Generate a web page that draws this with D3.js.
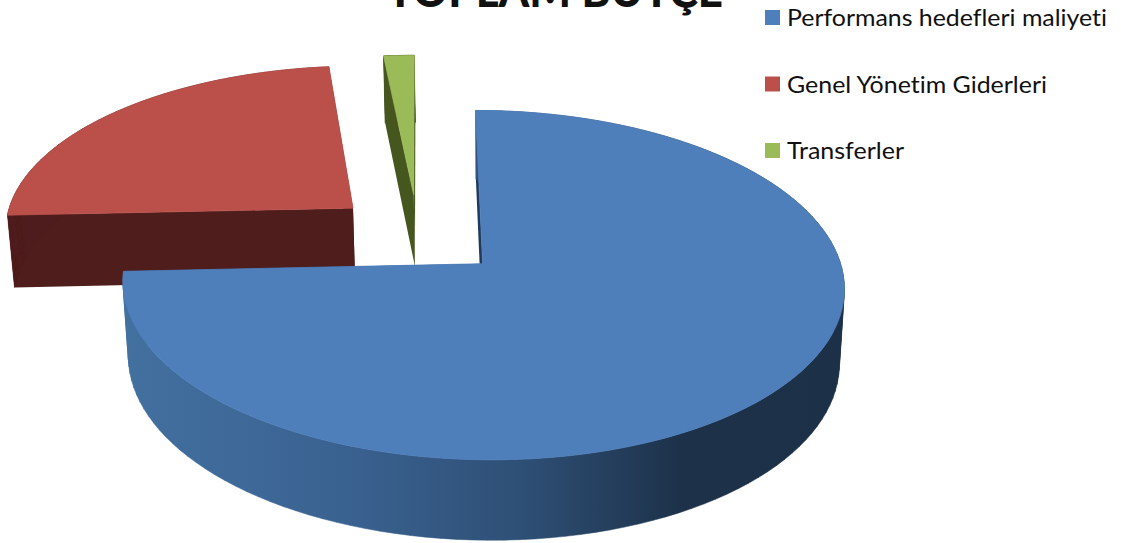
<!DOCTYPE html>
<html>
<head>
<meta charset="utf-8">
<script src="https://cdn.jsdelivr.net/npm/d3@7"></script>
<style>
    html, body { margin: 0; padding: 0; background: #fff; overflow: hidden; }
    text { font-family: Lato, "Open Sans", sans-serif; fill: #111; font-variant-ligatures: none; }
</style>
</head>
<body>
<script>
const title = "TOPLAM BÜTÇE";
const categories = ["Performans hedefleri maliyeti", "Genel Yönetim Giderleri", "Transferler"];
const values = [74.3, 24.1, 1.6];

const topColors = ["#4f7fbb", "#bb504b", "#9bbb59"];
const wallColors = ["#1f3a5c", "#4e1d1c", "#46561f"];

const width = 1121, height = 543;

// pie "camera": explosion is in radius units, perspective shrinks the back of the disc
const explode = 0.25;
const perspective = 0.12;
const wallHeight = 73;
const firstAngle = 0;
const shrinkX = 0.0143, shrinkY = 0.02, shrinkCenterX = 497;

const xScale = d3.scaleLinear().domain([-1, 1]).range([418 - 350.5, 418 + 350.5]);
const yScale = d3.scaleLinear().domain([-1, 1]).range([234.6 - 165, 234.6 + 165]);

const svg = d3.select("body")
    .append("svg")
    .attr("width", width)
    .attr("height", height)
    .style("display", "block");

const grad = svg.append("defs")
    .append("linearGradient")
    .attr("id", "blue-wall")
    .attr("gradientUnits", "userSpaceOnUse")
    .attr("x1", 125).attr("x2", 850).attr("y1", 0).attr("y2", 0);
grad.selectAll("stop")
    .data([[0, "#42709f"], [0.3, "#3a6291"], [0.55, "#2e4f75"], [0.77, "#1d3149"], [1, "#1c3048"]])
    .join("stop")
    .attr("offset", d => d[0])
    .attr("stop-color", d => d[1]);

const pie = d3.pie()
    .sort(null)
    .startAngle(firstAngle)
    .endAngle(firstAngle + 2 * Math.PI);
const slices = pie(values);

// world point (u right, v towards the viewer, z down) to screen
function project(u, v, z) {
    const s = 1 / (1 - perspective * v);
    const y0 = yScale(0);
    return [
        shrinkCenterX + (xScale(u * s) - shrinkCenterX) * (1 - shrinkX * z),
        y0 + (yScale(v * s) - y0) * (1 - shrinkY * z) + wallHeight * z * s
    ];
}

const line = d3.line();

function drawSlice(slice) {
    const i = slice.index;
    const mid = (slice.startAngle + slice.endAngle) / 2;
    const cu = explode * Math.sin(mid), cv = -explode * Math.cos(mid);
    const rim = d3.range(0, 1.0001, 1 / 120)
        .map(t => slice.startAngle + t * (slice.endAngle - slice.startAngle));
    const rimPoint = (a, z) => project(cu + Math.sin(a), cv - Math.cos(a), z);
    const g = svg.append("g").classed("slice", true);

    // cut faces
    for (const a of [slice.startAngle, slice.endAngle]) {
        g.append("path")
            .attr("d", line([project(cu, cv, 0), rimPoint(a, 0), rimPoint(a, 1), project(cu, cv, 1)]) + "Z")
            .attr("fill", wallColors[i]);
    }

    // outer wall, one quad per rim step so the silhouette has no pinch where the rims cross
    const quads = d3.pairs(rim).map(([a, b]) => {
        const quad = [rimPoint(a, 0), rimPoint(b, 0), rimPoint(b, 1), rimPoint(a, 1)];
        return line(d3.polygonArea(quad) < 0 ? quad.reverse() : quad) + "Z";
    });
    const wallFill = i === 0 ? "url(#blue-wall)" : wallColors[i];
    g.append("path")
        .attr("d", quads.join(""))
        .attr("fill", wallFill)
        .attr("stroke", wallFill)
        .attr("stroke-width", 0.5);

    // top, stroked in its own colour to hide the wall's seam stroke
    g.append("path")
        .attr("d", line([project(cu, cv, 0)].concat(rim.map(a => rimPoint(a, 0)))) + "Z")
        .attr("fill", topColors[i])
        .attr("stroke", topColors[i])
        .attr("stroke-width", 0.8);
}

// back slices first, blue lies over the red wall
drawSlice(slices[2]);
drawSlice(slices[1]);
drawSlice(slices[0]);

svg.append("text")
    .attr("x", 387)
    .attr("y", 7)
    .attr("font-size", 46)
    .attr("font-weight", 900)
    .attr("textLength", 336)
    .attr("lengthAdjust", "spacingAndGlyphs")
    .text(title);

const legendY = d3.scalePoint().domain(categories).range([10, 143]);
const legendLengths = [320, 260, 117];

const legend = svg.append("g")
    .selectAll("g")
    .data(categories)
    .join("g")
    .attr("transform", d => `translate(765, ${legendY(d)})`);

legend.append("rect")
    .attr("width", 15)
    .attr("height", 15)
    .attr("fill", (d, i) => topColors[i]);

legend.append("text")
    .attr("x", 22)
    .attr("y", 16)
    .attr("font-size", 24)
    .attr("textLength", (d, i) => legendLengths[i])
    .attr("lengthAdjust", "spacingAndGlyphs")
    .text(d => d);
</script>
</body>
</html>
